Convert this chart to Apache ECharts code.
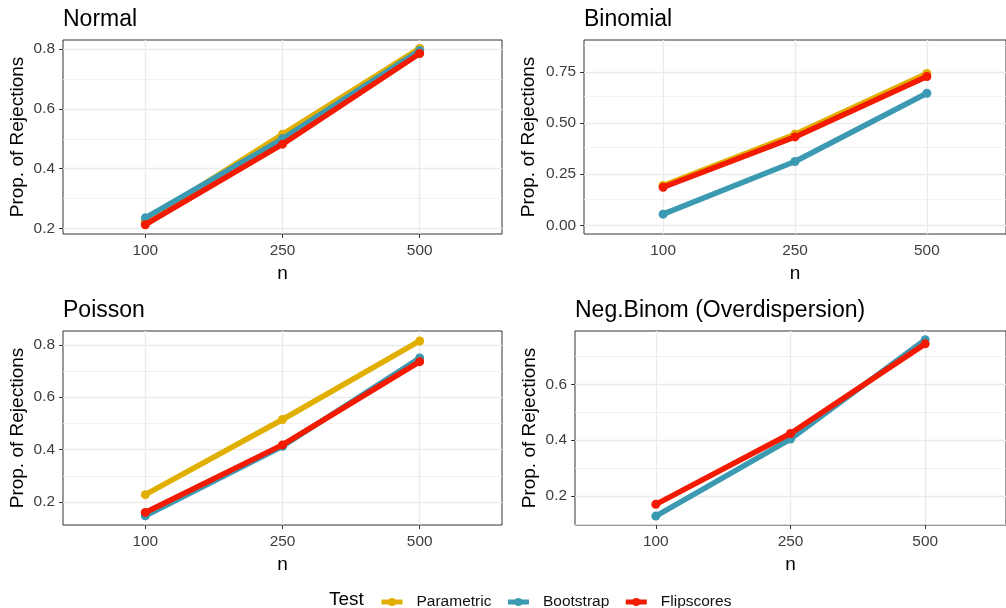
<!DOCTYPE html>
<html>
<head>
<meta charset="utf-8">
<script src="https://cdn.jsdelivr.net/npm/echarts@6/dist/echarts.min.js"></script>
<style>
  html, body { margin: 0; padding: 0; background: #fff; }
  #chart { width: 1006px; height: 608px; }
</style>
</head>
<body>
<div id="chart"></div>
<script>
// 样本量 (x 轴类别)
const nLabels = ['100', '250', '500'];
const testNames = ['Parametric', 'Bootstrap', 'Flipscores'];
const testColors = ['#E1AF00', '#3B9AB2', '#F21A00'];

// Normal
const normalParametric = [0.225, 0.515, 0.802];
const normalBootstrap = [0.236, 0.500, 0.795];
const normalFlipscores = [0.213, 0.482, 0.785];
// Binomial
const binomialParametric = [0.195, 0.445, 0.742];
const binomialBootstrap = [0.055, 0.312, 0.645];
const binomialFlipscores = [0.186, 0.432, 0.727];
// Poisson
const poissonParametric = [0.228, 0.515, 0.815];
const poissonBootstrap = [0.147, 0.413, 0.750];
const poissonFlipscores = [0.160, 0.418, 0.736];
// Neg.Binom
const negbinBootstrap = [0.128, 0.404, 0.760];
const negbinFlipscores = [0.170, 0.424, 0.745];

// y 轴刻度
const normalTicks = [0.2, 0.4, 0.6, 0.8];
const normalMinor = [0.3, 0.5, 0.7];
const binomialTicks = [0, 0.25, 0.5, 0.75];
const binomialMinor = [0.125, 0.375, 0.625, 0.875];
const poissonTicks = [0.2, 0.4, 0.6, 0.8];
const poissonMinor = [0.3, 0.5, 0.7];
const negbinTicks = [0.2, 0.4, 0.6];
const negbinMinor = [0.1, 0.3, 0.5, 0.7];

const FONT = 'Liberation Sans, Arial, sans-serif';

const panels = [
  {
    title: 'Normal', box: { left: 63, top: 40, width: 439, height: 194 },
    yMin: 0.182, yMax: 0.830, ticks: normalTicks, minor: normalMinor, digits: 1, nameGap: 36,
    values: [normalParametric, normalBootstrap, normalFlipscores]
  },
  {
    title: 'Binomial', box: { left: 584, top: 40, width: 430, height: 194 },
    yMin: -0.042, yMax: 0.905, ticks: binomialTicks, minor: binomialMinor, digits: 2, nameGap: 46,
    values: [binomialParametric, binomialBootstrap, binomialFlipscores]
  },
  {
    title: 'Poisson', box: { left: 63, top: 331, width: 439, height: 194 },
    yMin: 0.112, yMax: 0.853, ticks: poissonTicks, minor: poissonMinor, digits: 1, nameGap: 36,
    values: [poissonParametric, poissonBootstrap, poissonFlipscores]
  },
  {
    title: 'Neg.Binom (Overdispersion)', box: { left: 575, top: 331, width: 439, height: 194 },
    yMin: 0.096, yMax: 0.791, ticks: negbinTicks, minor: negbinMinor, digits: 1, nameGap: 36,
    values: [null, negbinBootstrap, negbinFlipscores]
  }
];

const xPos = nLabels.map((_, i) => i + 1);

const option = {
  animation: false,
  backgroundColor: '#fff',
  textStyle: { fontFamily: FONT },
  title: [],
  grid: [],
  xAxis: [],
  yAxis: [],
  series: [],
  legend: {
    data: testNames,
    left: 379,
    top: 594,
    padding: 0,
    orient: 'horizontal',
    itemWidth: 21,
    itemHeight: 10,
    itemGap: 14,
    lineStyle: { width: 5 },
    textStyle: { fontFamily: FONT, fontSize: 15.5, color: '#111', padding: [0, 0, 0, 9] }
  },
  graphic: [{
    type: 'text', left: 329, top: 590,
    style: { text: 'Test', fontFamily: FONT, fontSize: 19, fill: '#000' }
  }]
};

panels.forEach((p, i) => {
  option.title.push({
    text: p.title, left: p.box.left, top: p.box.top - 32, padding: 0,
    textStyle: { fontFamily: FONT, fontSize: 23, fontWeight: 'normal', color: '#000' }
  });
  option.grid.push(Object.assign({
    show: true, borderColor: '#333333', borderWidth: 1, backgroundColor: '#fff'
  }, p.box));
  option.xAxis.push({
    type: 'value', gridIndex: i, min: 0.4, max: 3.6, interval: 1,
    name: 'n', nameLocation: 'middle', nameGap: 30,
    nameTextStyle: { fontFamily: FONT, fontSize: 19, color: '#000' },
    axisLine: { show: false },
    axisTick: { show: true, length: 4, customValues: xPos, lineStyle: { color: '#333333', width: 1 } },
    axisLabel: {
      customValues: xPos, margin: 9, fontFamily: FONT, fontSize: 15.4, color: '#3D3D3D',
      formatter: v => nLabels[Math.round(v) - 1]
    },
    splitLine: { show: false }
  });
  option.yAxis.push({
    type: 'value', gridIndex: i, min: p.yMin, max: p.yMax,
    name: 'Prop. of Rejections', nameLocation: 'middle', nameGap: p.nameGap, nameRotate: 90,
    nameTextStyle: { fontFamily: FONT, fontSize: 19, color: '#000' },
    axisLine: { show: false },
    axisTick: { show: true, length: 4, customValues: p.ticks, lineStyle: { color: '#333333', width: 1 } },
    axisLabel: {
      customValues: p.ticks, margin: 8, fontFamily: FONT, fontSize: 15.4, color: '#3D3D3D',
      formatter: v => v.toFixed(p.digits)
    },
    splitLine: { show: false }
  });
  // 网格线
  const gridData = []
    .concat(p.minor.map(v => ({ yAxis: v, lineStyle: { width: 0.8, color: '#EFEFEF' } })))
    .concat(p.ticks.map(v => ({ yAxis: v, lineStyle: { width: 1.4, color: '#EBEBEB' } })))
    .concat(xPos.map(v => ({ xAxis: v, lineStyle: { width: 1.4, color: '#EBEBEB' } })));
  option.series.push({
    type: 'line', name: 'grid' + i, xAxisIndex: i, yAxisIndex: i, data: [], z: 1,
    markLine: {
      z: 1, silent: true, symbol: ['none', 'none'], label: { show: false },
      lineStyle: { type: 'solid' }, emphasis: { disabled: true }, data: gridData
    }
  });
  p.values.forEach((vals, k) => {
    if (!vals) return;
    option.series.push({
      type: 'line', name: testNames[k], xAxisIndex: i, yAxisIndex: i, z: 10 + k,
      data: vals.map((v, j) => [xPos[j], v]),
      symbol: 'circle', symbolSize: 9,
      itemStyle: { color: testColors[k] },
      lineStyle: { color: testColors[k], width: 5.5 }
    });
  });
});

const chart = echarts.init(document.getElementById('chart'), null, { renderer: 'canvas' });
chart.setOption(option);
</script>
</body>
</html>
